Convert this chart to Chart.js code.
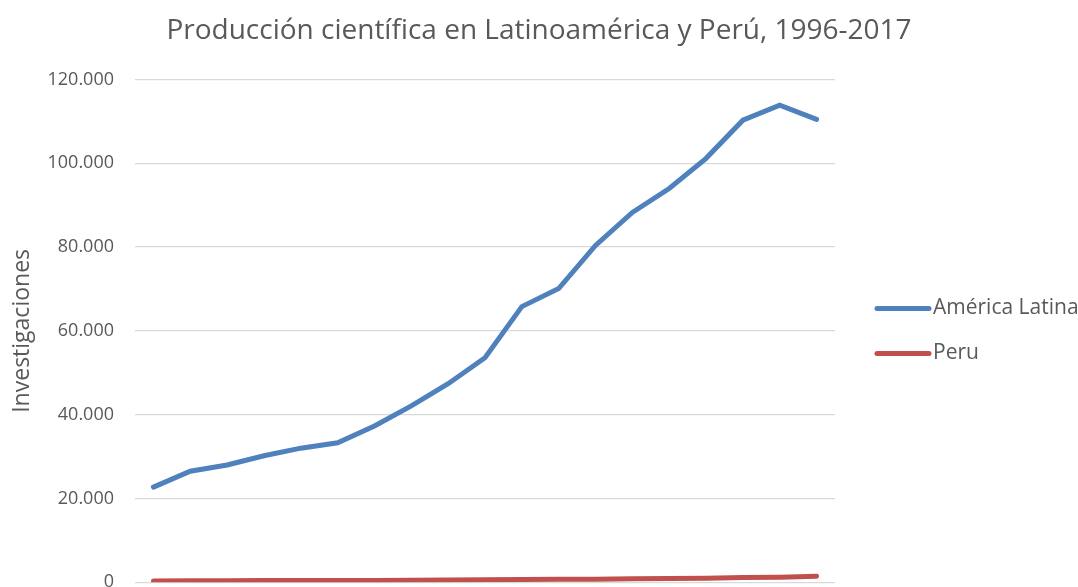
<!DOCTYPE html>
<html>
<head>
<meta charset="utf-8">
<script src="https://cdn.jsdelivr.net/npm/chart.js@4/dist/chart.umd.min.js"></script>
<style>
  html, body { margin: 0; padding: 0; background: #fff; overflow: hidden; }
  #wrap { width: 1078px; height: 614px; }
</style>
</head>
<body>
<div id="wrap"><canvas id="chart"></canvas></div>
<script>
const years = ["1996", "1997", "1998", "1999", "2000", "2001", "2002", "2003", "2004", "2005",
  "2006", "2007", "2008", "2009", "2010", "2011", "2012", "2013", "2014"];
const americaLatina = [22700, 26500, 28000, 30200, 32000, 33300, 37300, 42100, 47400, 53600,
  65800, 70100, 80400, 88300, 94000, 101200, 110300, 113900, 110500];
const peru = [300, 330, 340, 380, 400, 420, 430, 480, 530, 580,
  650, 700, 720, 800, 880, 960, 1100, 1200, 1450];
const yTicks = [0, 20000, 40000, 60000, 80000, 100000, 120000];

const FONT = "'Open Sans', sans-serif";
const GREY = "#595959";

const fmt = v => String(v).replace(/\B(?=(\d{3})+(?!\d))/g, ".");

// excel-like legend on the right: rounded line sample + label
const sideLegend = {
  id: "sideLegend",
  afterDraw(chart) {
    const { ctx, chartArea } = chart;
    const mid = (chartArea.top + chartArea.bottom) / 2;
    const gap = 45;
    const x0 = chartArea.right + 42;
    const n = chart.data.datasets.length;
    ctx.save();
    chart.data.datasets.forEach((ds, i) => {
      const y = mid + (i - (n - 1) / 2) * gap;
      ctx.strokeStyle = ds.borderColor;
      ctx.lineWidth = 5;
      ctx.lineCap = "round";
      ctx.beginPath();
      ctx.moveTo(x0, y);
      ctx.lineTo(x0 + 52, y);
      ctx.stroke();
      ctx.fillStyle = GREY;
      ctx.font = "21px " + FONT;
      ctx.textBaseline = "middle";
      ctx.fillText(ds.label, x0 + 56, y);
    });
    ctx.restore();
  },
};

new Chart(document.getElementById("chart"), {
  type: "line",
  data: {
    labels: years,
    datasets: [
      {
        label: "América Latina",
        data: americaLatina,
        borderColor: "#4f81bd",
        backgroundColor: "#4f81bd",
        borderWidth: 5,
        borderCapStyle: "round",
        pointRadius: 0,
        tension: 0,
      },
      {
        label: "Peru",
        data: peru,
        borderColor: "#c0504d",
        backgroundColor: "#c0504d",
        borderWidth: 5,
        borderCapStyle: "round",
        pointRadius: 0,
        tension: 0,
      },
    ],
  },
  options: {
    responsive: true,
    maintainAspectRatio: false,
    animation: false,
    layout: { padding: { left: 0, right: 0, top: 0, bottom: 5 } },
    plugins: {
      title: {
        display: true,
        text: "Producción científica en Latinoamérica y Perú, 1996-2017",
        color: GREY,
        font: { family: FONT, size: 28, weight: "normal" },
        padding: { top: 14, bottom: 32 },
      },
      legend: { display: false },
      tooltip: { enabled: false },
    },
    scales: {
      x: {
        offset: true,
        grid: { display: false },
        border: { display: false },
        ticks: { display: false },
        afterFit: axis => { axis.height = 0; },
      },
      y: {
        min: 0,
        max: 120000,
        afterBuildTicks: axis => { axis.ticks = yTicks.map(v => ({ value: v })); },
        afterFit: axis => { axis.width = 135; },
        grid: { color: "#d9d9d9", lineWidth: 1.3, drawTicks: false },
        border: { display: false },
        ticks: {
          color: GREY,
          font: { family: FONT, size: 18 },
          padding: 21,
          callback: v => fmt(v),
        },
        title: {
          display: true,
          text: "Investigaciones",
          color: GREY,
          font: { family: FONT, size: 23 },
          padding: { top: 9, bottom: 0 },
        },
      },
      // empty right-hand box that leaves room for the legend
      legendSpace: {
        type: "linear",
        position: "right",
        grid: { display: false },
        border: { display: false },
        ticks: { display: false },
        afterFit: axis => { axis.width = 243; },
      },
    },
  },
  plugins: [sideLegend],
});
</script>
</body>
</html>
